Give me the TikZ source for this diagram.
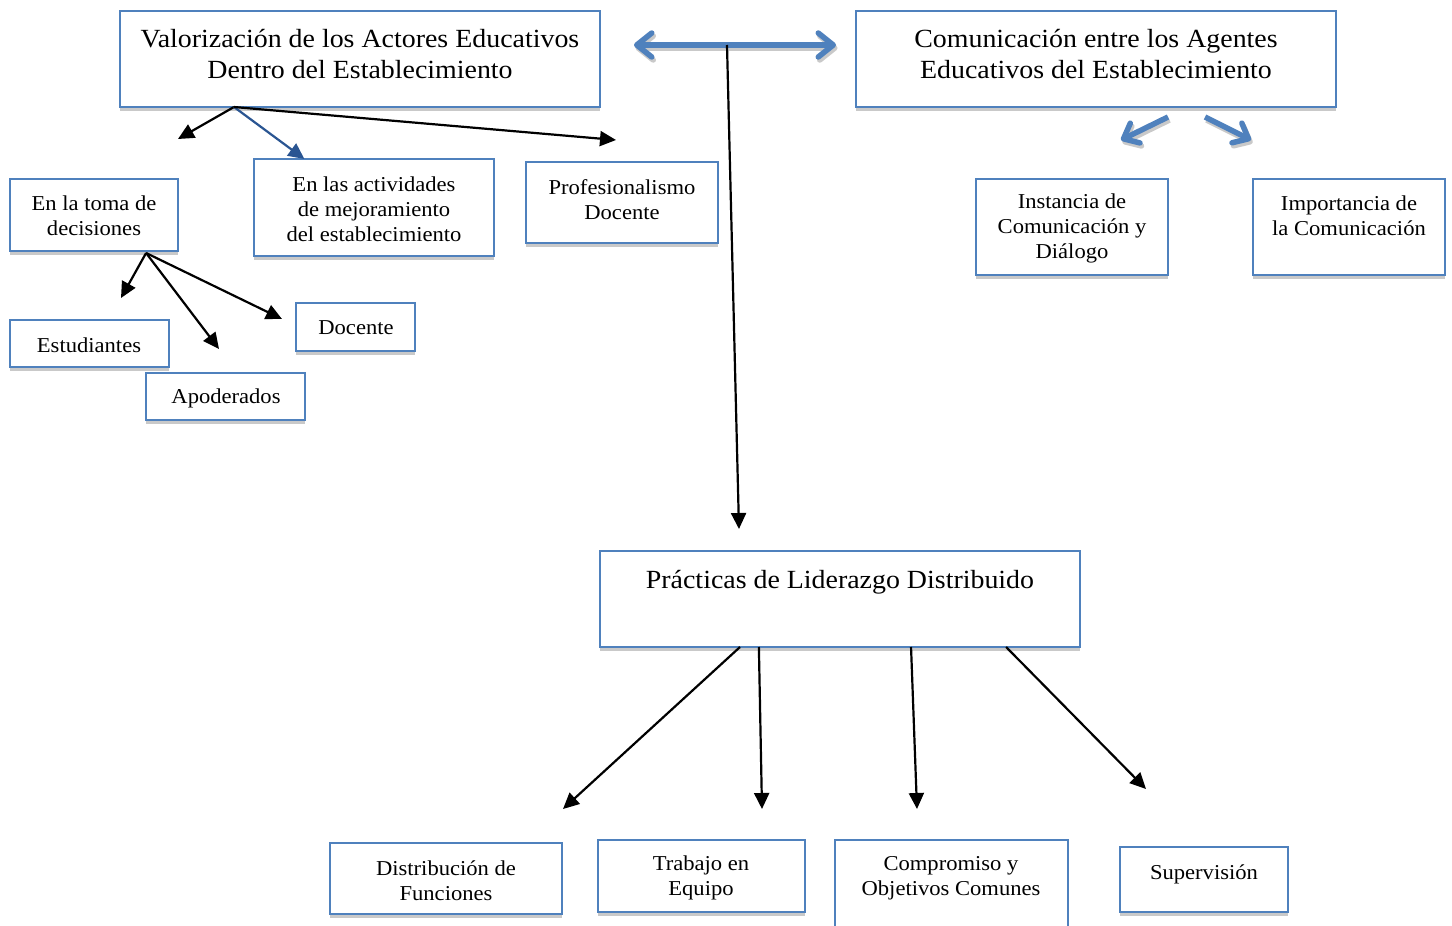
\documentclass[tikz,border=0pt]{standalone}
\usepackage{fontspec}
\setmainfont{Liberation Serif}[FakeStretch=1.065]
\usetikzlibrary{arrows.meta,calc}
\definecolor{bblue}{HTML}{4F81BD}
\definecolor{dblue}{HTML}{2A5592}
\definecolor{shd}{HTML}{C9C9C9}
\tikzset{
  box/.style={draw=bblue, line width=1.8pt, fill=white, inner sep=0pt, outer sep=0pt, rectangle},
  big/.style={font=\fontsize{26.2}{31}\selectfont, align=center, inner sep=0pt},
  small/.style={font=\fontsize{21.2}{25}\selectfont, align=center, inner sep=0pt},
  conn/.style={line width=2.2pt, -{Triangle[length=16pt,width=15pt]}},
  dconn/.style={conn, draw=dblue, -{Triangle[length=16pt,width=15pt,fill=dblue]}},
  fat/.style={line width=5.5pt, line join=round},
  fatblue/.style={fat, draw=bblue},
  fatshd/.style={fat, draw=shd, transform canvas={xshift=1.5pt,yshift=-3pt}},
  bhead/.tip={Straight Barb[length=15pt,width=24pt,round]},
  shead/.tip={Straight Barb[length=13pt,width=22pt,round]},
}
\newcommand\mybox[5]{%
  \fill[shd] (#2,#3+4) rectangle (#4,#5+4);
  \node[box, minimum width={#4-#2}, minimum height={#5-#3}] (#1) at ({(#2+#4)/2},{(#3+#5)/2}) {};
}
\begin{document}
\begin{tikzpicture}[x=1pt,y=-1pt]
\useasboundingbox (0,0) rectangle (1452,926);
\clip (0,0) rectangle (1452,926);
\fill[white] (0,0) rectangle (1452,926);

% boxes
\mybox{val}{120}{11}{600}{107}
\mybox{com}{856}{11}{1336}{107}
\mybox{toma}{10}{179}{178}{251}
\mybox{act}{254}{159}{494}{256}
\mybox{prof}{526}{162}{718}{243}
\mybox{est}{10}{320}{169}{367}
\mybox{apo}{146}{373}{305}{420}
\mybox{doc}{296}{303}{415}{351}
\mybox{ins}{976}{179}{1168}{275}
\mybox{imp}{1253}{179}{1445}{275}
\mybox{pra}{600}{551}{1080}{647}
\mybox{dis}{330}{843}{562}{914}
\mybox{tra}{598}{840}{805}{912}
\mybox{cmp}{835}{840}{1068}{950}
\mybox{sup}{1120}{847}{1288}{912}

% texts
\node[big] (valt) at (360,54) {Valorización de los Actores Educativos\\Dentro del Establecimiento};
\node[big] (comt) at (1096,54) {Comunicación entre los Agentes\\Educativos del Establecimiento};
\node[small] (tomat) at (94,216) {En la toma de\\decisiones};
\node[small] (actt) at (374,209) {En las actividades\\de mejoramiento\\del establecimiento};
\node[small] (proft) at (622,200) {Profesionalismo\\Docente};
\node[small] (estt) at (89,345) {Estudiantes};
\node[small] (apot) at (226,398) {Apoderados};
\node[small] (doct) at (356,328) {Docente};
\node[small] (inst) at (1072,228) {Instancia de\\Comunicación y\\Diálogo};
\node[small] (impt) at (1349,216) {Importancia de\\la Comunicación};
\node[big] (prat) at (840,582) {Prácticas de Liderazgo Distribuido};
\node[small] (dist) at (446,881) {Distribución de\\Funciones};
\node[small] (trat) at (701,878) {Trabajo en\\Equipo};
\node[small] (cmpt) at (951,878) {Compromiso y\\Objetivos Comunes};
\node[small] (supt) at (1204,874) {Supervisión};

% connector coordinates
\coordinate (v0) at ($(val.south west)!0.2375!(val.south east)$);
\coordinate (v1) at (178,139);
\coordinate (v3) at (616,140);
\coordinate (t0) at ($(toma.south west)!0.81!(toma.south east)+(0,2)$);
\coordinate (t1) at (121,298);
\coordinate (t2) at (219,349);
\coordinate (t3) at (282,319);
\coordinate (da) at (634,45);
\coordinate (db) at (836,45);
\coordinate (dm) at (727,45);
\coordinate (pin) at (739,529);
\coordinate (ca0) at (1168,117);
\coordinate (ca1) at (1121,140);
\coordinate (cb0) at (1205,117);
\coordinate (cb1) at (1251,140);
\coordinate (p1) at ($(pra.south west)!0.2917!(pra.south east)$);
\coordinate (p2) at ($(pra.south west)!0.331!(pra.south east)$);
\coordinate (p3) at ($(pra.south west)!0.648!(pra.south east)$);
\coordinate (p4) at ($(pra.south west)!0.846!(pra.south east)$);
\coordinate (q1) at (563,809);
\coordinate (q2) at (762,809);
\coordinate (q3) at (917,809);
\coordinate (q4) at (1146,789);

% black / dark-blue arrows
\draw[conn] (v0) -- (v1);
\draw[dconn] (v0) -- ($(act.north west)!0.21!(act.north east)$);
\draw[conn] (v0) -- (v3);
\draw[conn] (t0) -- (t1);
\draw[conn] (t0) -- (t2);
\draw[conn] (t0) -- (t3);
\draw[conn] (p1) -- (q1);
\draw[conn] (p2) -- (q2);
\draw[conn] (p3) -- (q3);
\draw[conn] (p4) -- (q4);

% blue fat arrows
\draw[fatshd, bhead-bhead] (da) -- (db);
\draw[fatblue, bhead-bhead] (da) -- (db);
\draw[fatshd, -shead] (ca0) -- (ca1);
\draw[fatblue, -shead] (ca0) -- (ca1);
\draw[fatshd, -shead] (cb0) -- (cb1);
\draw[fatblue, -shead] (cb0) -- (cb1);

\draw[conn] (dm) -- (pin);
\end{tikzpicture}
\end{document}
